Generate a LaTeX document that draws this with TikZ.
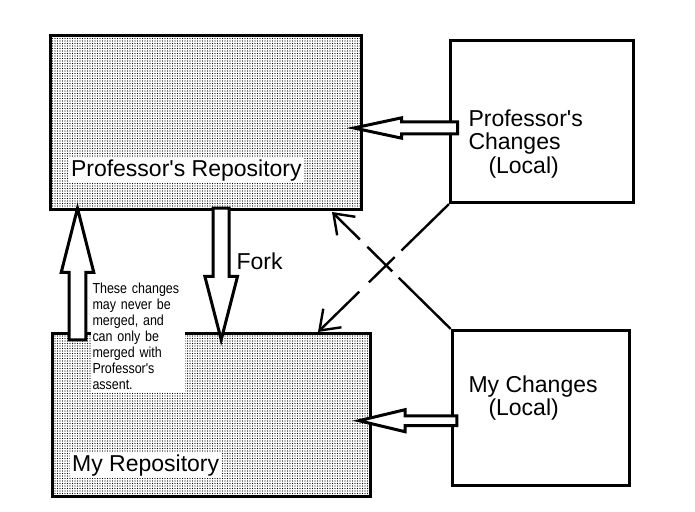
\documentclass[tikz,border=0pt]{standalone}
\usepackage{fontspec}
\usetikzlibrary{calc,arrows.meta,patterns.meta}
\newfontfamily\boxfont{Liberation Sans}
\newfontfamily\notefont{Liberation Sans}[FakeStretch=0.86]
\newcommand{\blockarrow}[5]{%
  \coordinate (ba-base) at ($(#2)!#5!(#1)$);
  \draw [barrow] ($(#1)!#3!90:(#2)$) -- ($(ba-base)!#3!90:(#2)$)
    -- ($(ba-base)!#4!90:(#2)$) -- (#2)
    -- ($(ba-base)!#4!-90:(#2)$) -- ($(ba-base)!#3!-90:(#2)$)
    -- ($(#1)!#3!-90:(#2)$) -- cycle;
}
\begin{document}
\begin{tikzpicture}[
 x=1pt, y=1pt,
 line width=3pt,
 font=\boxfont\fontsize{23}{23.5}\selectfont,
 repo/.style={draw=black,rectangle,pattern={Dots[distance=2.5pt,radius=.6pt]}},
 local/.style={draw=black,rectangle,fill=white},
 tag/.style={fill=white,inner sep=2pt,anchor=base west},
 barrow/.style={draw=black,fill=white,line width=3pt,line join=miter},
 link/.style={line width=2.4pt,-{Straight Barb[length=18pt,width=26pt]}}
]
\useasboundingbox (0,0) rectangle (695,511);
\node (prof-repo) [repo,minimum width=311pt,minimum height=174.5pt] at (206,388.3) {};
\node (my-repo) [repo,minimum width=317.7pt,minimum height=163.6pt] at (211.4,96) {};
\node (prof-local) [local,minimum width=183pt,minimum height=161.7pt] at (542,389.3) {};
\node (my-local) [local,minimum width=177pt,minimum height=154.7pt] at (540.7,103.2) {};
\node (prof-repo-label) [tag] at (67.5,334.3) {Professor's Repository};
\node (my-repo-label) [tag] at (68.7,39.3) {My Repository};
\coordinate (up-tail) at (77.5,171);
\coordinate (up-tip) at (77.5,302.7);
\coordinate (fork-tail) at (221.2,302.8);
\coordinate (fork-tip) at (221.2,171.3);
\coordinate (prof-tail) at (457.5,383);
\coordinate (prof-tip) at (354,383);
\coordinate (my-tail) at (456.8,90.3);
\coordinate (my-tip) at (359,90.3);
\coordinate (my-repo-in) at (318,179);
\coordinate (prof-repo-in) at (332,299);
\blockarrow{up-tail}{up-tip}{8.3pt}{16.3pt}{64.2pt}
\blockarrow{fork-tail}{fork-tip}{8pt}{16.3pt}{63.2pt}
\blockarrow{prof-tail}{prof-tip}{6pt}{10.2pt}{47.7pt}
\blockarrow{my-tail}{my-tip}{4.8pt}{11pt}{46pt}
\node (note) [fill=white,inner sep=2pt,anchor=north west,text width=90pt,align=left,
  font=\notefont\fontsize{14.5}{16}\selectfont] at (89,231.6)
  {These changes\\may never be\\merged, and\\can only be\\merged with\\Professor's\\assent.};
\draw [link,dash pattern=on 66.5pt off 9.4pt on 36pt off 13.5pt on 80pt] (prof-local.south west) -- (my-repo-in);
\draw [link,dash pattern=on 73pt off 9pt on 35pt off 10.5pt on 80pt] (my-local.north west) -- (prof-repo-in);
\node (fork-label) [anchor=base west,inner sep=0] at (235,241) {Fork};
\node (prof-local-label) [anchor=north west,inner sep=0,align=left] at (467,402.8)
  {Professor's\\Changes\\\hspace*{20pt}(Local)};
\node (my-local-label) [anchor=north west,inner sep=0,align=left] at (467,136.8)
  {My Changes\\\hspace*{20pt}(Local)};
\end{tikzpicture}
\end{document}
